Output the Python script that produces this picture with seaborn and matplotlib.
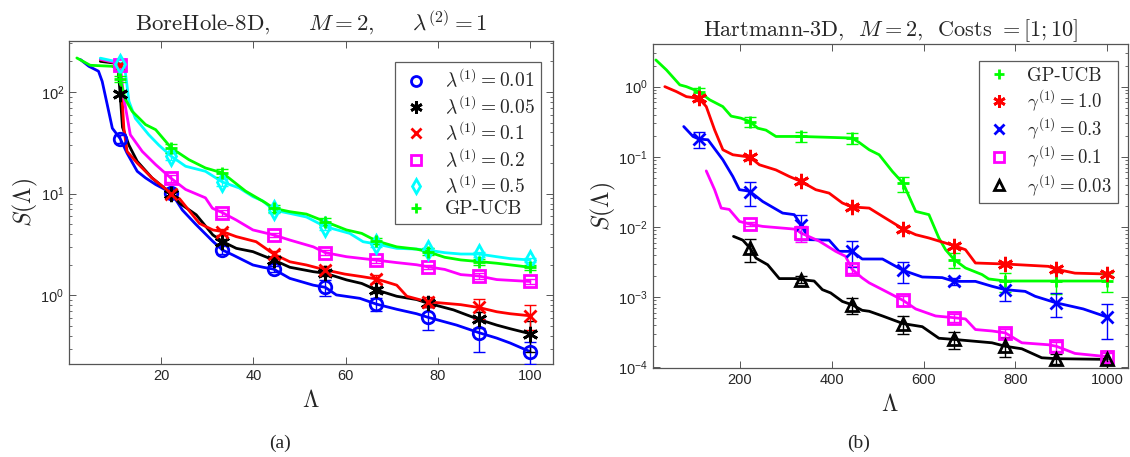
import numpy as np
import pandas as pd
import matplotlib
matplotlib.use("Agg")
import matplotlib.pyplot as plt
from matplotlib.lines import Line2D
import seaborn as sns

# ---------------- BoreHole-8D panel ----------------
bh_marker_x = [11.1, 22.2, 33.3, 44.4, 55.6, 66.7, 77.8, 88.9, 100.0]

bh_x_001 = [2.5, 4.3, 6.4, 7.2, 8.3, 9.4, 11.1, 12.6, 14.8, 16.6, 18.8, 22.2, 24.6, 27.5, 31.2, 33.3,
            35.6, 39.9, 42.1, 44.4, 47.9, 53.0, 55.6, 58.0, 63.1, 66.7, 71.1, 75.4, 77.8, 84.1, 88.9,
            92.8, 95.7, 100.0]
bh_y_001 = [208, 179, 160, 127, 75, 44, 34.8, 25, 16.6, 14.3, 12.3, 10.2, 6.9, 5.0, 3.4, 2.79,
            2.49, 1.99, 1.89, 1.81, 1.47, 1.26, 1.2, 1.01, 0.935, 0.82, 0.73, 0.66, 0.61, 0.51, 0.43,
            0.38, 0.34, 0.28]
bh_m_001 = [34.8, 10.2, 2.79, 1.81, 1.2, 0.82, 0.61, 0.43, 0.28]
bh_e_001 = [3.0, 0.8, 0.25, 0.12, 0.22, 0.12, 0.15, 0.15, 0.07]

bh_x_005 = [6.8, 9.6, 10.6, 11.1, 11.6, 13.0, 14.8, 18.0, 22.2, 24.0, 27.6, 31.2, 33.3, 36.3, 39.9,
            44.4, 47.9, 53.0, 55.6, 60.2, 63.5, 66.7, 71.1, 75.4, 77.8, 83.4, 88.9, 92.8, 95.7, 100.0]
bh_y_005 = [200, 193, 180, 95.6, 45, 30, 20.8, 14.3, 10.0, 8.05, 6.2, 3.93, 3.38, 2.9, 2.69,
            2.23, 1.89, 1.71, 1.65, 1.42, 1.31, 1.13, 0.98, 0.91, 0.84, 0.72, 0.58, 0.51, 0.47, 0.42]
bh_m_005 = [95.6, 10.0, 3.38, 2.23, 1.65, 1.13, 0.84, 0.58, 0.42]
bh_e_005 = [4.0, 0.8, 0.2, 0.15, 0.1, 0.08, 0.07, 0.1, 0.14]

bh_x_01 = [6.8, 9.9, 11.1, 11.9, 12.6, 14.8, 18.0, 22.2, 24.0, 28.3, 31.2, 33.3, 36.3, 40.6, 44.4,
           47.9, 51.5, 55.6, 59.8, 63.5, 66.7, 71.1, 73.3, 77.8, 85.0, 88.9, 92.8, 95.7, 100.0]
bh_y_01 = [208, 195, 185, 44, 26, 20, 14.3, 10.0, 8.9, 5.1, 4.4, 4.24, 3.78, 3.37, 2.55,
           2.14, 1.99, 1.78, 1.62, 1.53, 1.45, 1.26, 0.98, 0.865, 0.81, 0.76, 0.69, 0.66, 0.63]
bh_m_01 = [185, 10.0, 4.24, 2.55, 1.78, 1.45, 0.865, 0.76, 0.63]
bh_e_01 = [5.0, 0.8, 0.3, 0.2, 0.15, 0.12, 0.1, 0.17, 0.17]

bh_x_02 = [6.8, 10.0, 11.1, 11.9, 13.3, 15.9, 18.8, 22.2, 25.3, 29.6, 31.1, 33.3, 36.3, 39.9, 44.4,
           47.9, 53.0, 55.6, 60.2, 66.7, 71.1, 75.4, 77.8, 81.5, 85.0, 88.9, 92.8, 100.0]
bh_y_02 = [210, 195, 185, 87, 38, 26, 19.3, 14.1, 11.0, 9.1, 7.2, 6.5, 5.5, 4.4, 3.93,
           3.5, 3.0, 2.63, 2.4, 2.22, 2.1, 2.0, 1.91, 1.8, 1.6, 1.55, 1.43, 1.37]
bh_m_02 = [185, 14.1, 6.5, 3.93, 2.63, 2.22, 1.91, 1.55, 1.37]
bh_e_02 = [5.0, 1.0, 0.4, 0.2, 0.15, 0.12, 0.1, 0.1, 0.08]

bh_x_05 = [6.8, 10.0, 11.1, 12.2, 13.0, 14.4, 17.3, 19.5, 22.2, 25.3, 29.6, 33.3, 36.9, 39.9, 42.0,
           44.4, 47.9, 51.5, 55.6, 60.9, 63.8, 66.7, 71.1, 75.4, 77.8, 81.5, 85.0, 88.9, 92.8, 95.7,
           100.0]
bh_y_05 = [215, 200, 188, 160, 81, 55, 38, 30, 23.3, 18.6, 16.6, 13.0, 11.4, 9.35, 8.5,
           6.9, 6.4, 5.9, 4.74, 4.07, 3.37, 3.2, 2.9, 2.85, 2.79, 2.63, 2.55, 2.55, 2.4, 2.3,
           2.23]
bh_m_05 = [188, 23.3, 13.0, 6.9, 4.74, 3.2, 2.79, 2.55, 2.23]
bh_e_05 = [8.0, 2.0, 1.0, 0.5, 0.3, 0.2, 0.15, 0.15, 0.12]

bh_x_ucb = [1.7, 4.6, 9.3, 10.5, 11.1, 12.1, 13.7, 16.6, 18.8, 22.2, 26.0, 29.6, 33.3, 38.3, 42.7,
            44.4, 47.9, 51.5, 55.6, 60.2, 63.5, 66.7, 71.1, 75.4, 77.8, 81.5, 85.0, 88.9, 92.8, 100.0]
bh_y_ucb = [216, 183, 179, 170, 135, 87, 64.6, 47.8, 42.6, 28.1, 21.6, 17.9, 16.0, 10.6, 8.1,
            7.18, 6.65, 6.3, 5.31, 4.4, 4.07, 3.43, 3.0, 2.85, 2.69, 2.37, 2.23, 2.15, 2.07, 1.89]
bh_m_ucb = [135, 28.1, 16.0, 7.18, 5.31, 3.43, 2.69, 2.15, 1.89]
bh_e_ucb = [10.0, 3.0, 1.5, 0.6, 0.4, 0.25, 0.2, 0.15, 0.1]

bh_labels = [r"$\lambda^{(1)} = 0.01$", r"$\lambda^{(1)} = 0.05$", r"$\lambda^{(1)} = 0.1$",
             r"$\lambda^{(1)} = 0.2$", r"$\lambda^{(1)} = 0.5$", "GP-UCB"]
bh_colors = ["#0000ff", "#000000", "#ff0000", "#ff00ff", "#00ffff", "#00ff00"]
bh_markers = ["o", (6, 2, 0), "x", "s", "d", "+"]

# ---------------- Hartmann-3D panel ----------------
hm_marker_x = [111.1, 222.2, 333.3, 444.4, 555.6, 666.7, 777.8, 888.9, 1000.0]

hm_x_ucb = [17.3, 40.3, 69.4, 83.7, 111.1, 134.3, 163.0, 181.2, 202.8, 222.2, 239.0, 257.0, 278.7,
            333.3, 444.4, 460.0, 481.7, 503.4, 532.2, 555.6, 582.9, 611.7, 633.4, 647.9, 666.7,
            691.2, 727.3, 741.7, 777.8, 888.9, 1000.0]
hm_y_ucb = [2.4, 1.73, 1.06, 1.0, 0.85, 0.65, 0.52, 0.38, 0.355, 0.318, 0.256, 0.24, 0.195,
            0.195, 0.185, 0.16, 0.126, 0.107, 0.0618, 0.042, 0.0167, 0.015, 0.00697, 0.00475, 0.00343,
            0.00261, 0.0021, 0.00182, 0.0017, 0.0017, 0.0017]
hm_m_ucb = [0.85, 0.318, 0.195, 0.185, 0.042, 0.00343, 0.0017, 0.0017, 0.0017]
hm_e_ucb = [0.12, 0.05, 0.03, 0.035, 0.01, 0.0008, 0.0005, 0.0006, 0.0005]

hm_x_10 = [36.8, 62.0, 83.7, 111.1, 127.0, 145.2, 163.2, 184.8, 222.2, 242.7, 278.7, 307.7, 333.3,
           365.4, 394.4, 423.2, 444.4, 481.7, 510.6, 555.6, 582.9, 611.7, 666.7, 691.2, 712.9,
           777.8, 871.7, 888.9, 929.6, 1000.0]
hm_y_10 = [1.0, 0.85, 0.72, 0.68, 0.52, 0.242, 0.126, 0.107, 0.099, 0.077, 0.065, 0.0525, 0.0446,
           0.034, 0.0304, 0.022, 0.0193, 0.0186, 0.0142, 0.00937, 0.00777, 0.00697, 0.00542,
           0.00475, 0.00307, 0.00297, 0.00275, 0.0025, 0.0022, 0.00214]
hm_m_10 = [0.68, 0.099, 0.0446, 0.0193, 0.00937, 0.00542, 0.00297, 0.0025, 0.00214]
hm_e_10 = [0.05, 0.008, 0.003, 0.0015, 0.0006, 0.0004, 0.0002, 0.0002, 0.00015]

hm_x_03 = [78.0, 98.2, 111.1, 130.7, 163.2, 184.8, 199.3, 213.0, 222.2, 249.8, 293.2, 318.5, 333.3,
           351.0, 394.4, 416.0, 444.4, 466.5, 510.6, 555.6, 597.2, 640.5, 666.7, 712.9, 748.9,
           777.8, 821.2, 842.9, 888.9, 947.6, 1000.0]
hm_y_03 = [0.27, 0.195, 0.179, 0.175, 0.0906, 0.0525, 0.034, 0.033, 0.032, 0.0231, 0.0158, 0.015,
           0.0108, 0.0066, 0.0065, 0.0045, 0.0045, 0.0035, 0.0035, 0.00241, 0.00194, 0.0019,
           0.00168, 0.00168, 0.00143, 0.00128, 0.00121, 0.00103, 0.00083, 0.00068, 0.00052]
hm_m_03 = [0.179, 0.032, 0.0108, 0.0045, 0.00241, 0.00168, 0.00128, 0.00083, 0.00052]
hm_e_03 = [0.045, 0.012, 0.0042, 0.0018, 0.0008, 0.0002, 0.0004, 0.0003, 0.00027]

hm_x_01 = [127.0, 145.2, 159.5, 177.0, 199.3, 222.2, 249.8, 322.0, 333.3, 372.7, 408.7, 430.3,
           444.4, 466.5, 481.7, 510.6, 555.6, 582.9, 626.2, 666.7, 691.2, 712.9, 748.9, 777.8,
           813.9, 871.7, 888.9, 929.6, 1000.0]
hm_y_01 = [0.063, 0.034, 0.0186, 0.0178, 0.012, 0.011, 0.0102, 0.0093, 0.0082, 0.0063, 0.0045,
           0.00382, 0.0025, 0.00188, 0.0016, 0.00128, 0.0009, 0.00068, 0.00054, 0.00051, 0.00049,
           0.000346, 0.00033, 0.00031, 0.000224, 0.00021, 0.0002, 0.000158, 0.000142]
hm_m_01 = [0.011, 0.0082, 0.0025, 0.0009, 0.00051, 0.00031, 0.0002, 0.000142]
hm_e_01 = [0.0008, 0.002, 0.0003, 0.00015, 0.00006, 0.00004, 0.00003, 0.00002]

hm_x_003 = [186.3, 206.5, 222.2, 235.4, 260.7, 286.0, 322.0, 333.3, 361.8, 379.8, 397.8, 423.2,
            444.4, 466.5, 481.7, 510.6, 555.6, 597.2, 633.4, 666.7, 748.9, 777.8, 813.9, 857.2,
            888.9, 1000.0]
hm_y_003 = [0.00735, 0.0065, 0.005, 0.0036, 0.0029, 0.00184, 0.00184, 0.00178, 0.0017, 0.00128,
            0.00115, 0.00087, 0.00078, 0.00065, 0.00063, 0.00054, 0.00042, 0.00038, 0.00026,
            0.00025, 0.000224, 0.0002, 0.000184, 0.000137, 0.000133, 0.00013]
hm_m_003 = [0.005, 0.00178, 0.00078, 0.00042, 0.00025, 0.0002, 0.000133, 0.00013]
hm_e_003 = [0.0018, 0.0002, 0.0002, 0.00012, 0.00007, 0.00006, 0.00002, 0.00004]

hm_labels = ["GP-UCB", r"$\gamma^{(1)} = 1.0$", r"$\gamma^{(1)} = 0.3$",
             r"$\gamma^{(1)} = 0.1$", r"$\gamma^{(1)} = 0.03$"]
hm_colors = ["#00ff00", "#ff0000", "#0000ff", "#ff00ff", "#000000"]
hm_markers = ["+", (6, 2, 0), "x", "s", "^"]

# ---------------- styling ----------------
sns.set_style("ticks")
plt.rcParams["font.family"] = ["Liberation Sans", "DejaVu Sans"]
plt.rcParams["mathtext.fontset"] = "cm"
plt.rcParams["axes.unicode_minus"] = False

TICK_COLOR = "#262626"
SPINE_COLOR = "#555555"
SERIF = "cmr10"


def build_frame(xs, ys, labels):
    rows = []
    for x, y, lab in zip(xs, ys, labels):
        rows.append(pd.DataFrame({"x": x, "y": y, "series": lab}))
    return pd.concat(rows, ignore_index=True)


def draw_panel(ax, xs, ys, mx, ms, es, labels, colors, markers):
    df = build_frame(xs, ys, labels)
    sns.lineplot(data=df, x="x", y="y", hue="series", hue_order=labels,
                 palette=dict(zip(labels, colors)), estimator=None, sort=False,
                 linewidth=2.0, legend=False, ax=ax)
    handles = []
    for x, m, e, lab, col, mk in zip(mx, ms, es, labels, colors, markers):
        filled = mk in ("x", "+") or isinstance(mk, tuple)
        size = 11 if isinstance(mk, tuple) else 9
        ax.errorbar(x, m, yerr=e, fmt="none", ecolor=col, elinewidth=1.0,
                    capsize=4, capthick=1.0, zorder=3)
        ax.plot(x, m, linestyle="none", marker=mk, markersize=size, markeredgewidth=2.0,
                markeredgecolor=col, markerfacecolor=col if filled else "none", zorder=4)
        handles.append(Line2D([], [], linestyle="none", marker=mk,
                              markersize=size * 0.8, markeredgewidth=2.0, markeredgecolor=col,
                              markerfacecolor=col if filled else "none", label=lab))
    ax.set_yscale("log")
    ax.tick_params(which="both", direction="in", top=True, right=True,
                   colors=SPINE_COLOR, labelcolor=TICK_COLOR, labelsize=10.5)
    ax.tick_params(which="major", length=5, width=0.7)
    ax.tick_params(which="minor", length=2.5, width=0.6)
    for sp in ax.spines.values():
        sp.set_visible(True)
        sp.set_color(SPINE_COLOR)
        sp.set_linewidth(0.9)
    return handles


fig = plt.figure(figsize=(11.3, 4.57), dpi=100)
ax1 = fig.add_axes([69 / 1130, 1 - 364.3 / 457, 484 / 1130, 323 / 457])
ax2 = fig.add_axes([652.5 / 1130, 1 - 368.3 / 457, 475.5 / 1130, 324.3 / 457])

# left panel
h1 = draw_panel(
    ax1,
    [bh_x_001, bh_x_005, bh_x_01, bh_x_02, bh_x_05, bh_x_ucb],
    [bh_y_001, bh_y_005, bh_y_01, bh_y_02, bh_y_05, bh_y_ucb],
    [bh_marker_x] * 6,
    [bh_m_001, bh_m_005, bh_m_01, bh_m_02, bh_m_05, bh_m_ucb],
    [bh_e_001, bh_e_005, bh_e_01, bh_e_02, bh_e_05, bh_e_ucb],
    bh_labels, bh_colors, bh_markers)
ax1.set_xlim(0, 105)
ax1.set_ylim(0.21, 315)
ax1.set_xticks([20, 40, 60, 80, 100])
ax1.set_title(r"BoreHole-8D,     $M = 2$,     $\lambda^{(2)} = 1$",
              fontfamily=SERIF, fontsize=16.5, pad=8)
ax1.set_xlabel(r"$\Lambda$", fontsize=17, labelpad=5)
ax1.set_ylabel(r"$S(\Lambda)$", fontsize=17, labelpad=0)
leg1 = ax1.legend(handles=h1, loc="upper right", bbox_to_anchor=(0.995, 0.965),
                  prop={"family": SERIF, "size": 14}, frameon=True, fancybox=False,
                  edgecolor="#333333", handletextpad=0.7, labelspacing=0.17,
                  borderpad=0.3, handlelength=1.6)
leg1.get_frame().set_linewidth(0.9)

# right panel
h2 = draw_panel(
    ax2,
    [hm_x_ucb, hm_x_10, hm_x_03, hm_x_01, hm_x_003],
    [hm_y_ucb, hm_y_10, hm_y_03, hm_y_01, hm_y_003],
    [hm_marker_x, hm_marker_x, hm_marker_x, hm_marker_x[1:], hm_marker_x[1:]],
    [hm_m_ucb, hm_m_10, hm_m_03, hm_m_01, hm_m_003],
    [hm_e_ucb, hm_e_10, hm_e_03, hm_e_01, hm_e_003],
    hm_labels, hm_colors, hm_markers)
ax2.set_xlim(10, 1045)
ax2.set_ylim(0.97e-4, 4.05)
ax2.set_xticks([200, 400, 600, 800, 1000])
ax2.set_title(r"Hartmann-3D,  $M = 2$,  Costs $= [1; 10]$",
              fontfamily=SERIF, fontsize=16, pad=6)
ax2.set_xlabel(r"$\Lambda$", fontsize=17, labelpad=5)
ax2.set_ylabel(r"$S(\Lambda)$", fontsize=17, labelpad=0)
leg2 = ax2.legend(handles=h2, loc="upper right", bbox_to_anchor=(0.998, 0.975),
                  prop={"family": SERIF, "size": 13.5}, frameon=True, fancybox=False,
                  edgecolor="#333333", handletextpad=0.7, labelspacing=0.12,
                  borderpad=0.3, handlelength=1.6)
leg2.get_frame().set_linewidth(0.9)

# sub-figure captions
fig.text(280 / 1130, 1 - 443 / 457, "(a)", ha="center", va="center",
         fontfamily="Liberation Serif", fontsize=14)
fig.text(859 / 1130, 1 - 443 / 457, "(b)", ha="center", va="center",
         fontfamily="Liberation Serif", fontsize=14)

fig.savefig("out.png", dpi=100)
